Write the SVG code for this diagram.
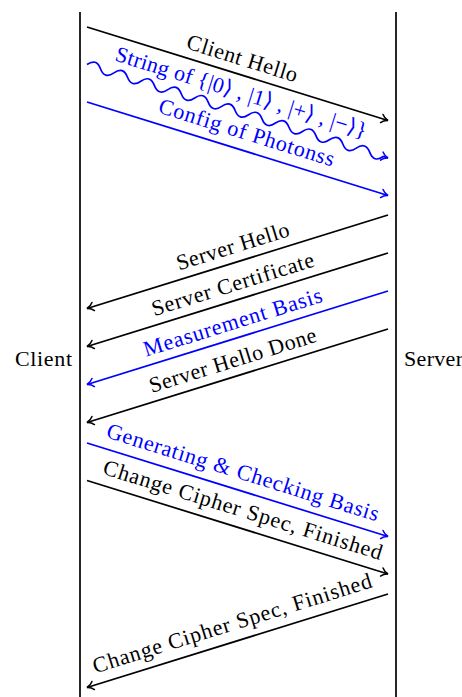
<svg xmlns="http://www.w3.org/2000/svg" width="462" height="697" viewBox="0 0 462 697">
  <style>
    text { font-family: "Liberation Serif", "DejaVu Serif", serif; font-size: 22px; }
    .k { fill: #000; }
    .b { fill: #0000ff; }
    .lifeline { stroke: #000; stroke-width: 1.7; fill: none; }
    .msg { stroke-width: 1.7; fill: none; }
    .msgk { stroke: #000; marker-end: url(#headK); }
    .msgb { stroke: #0000ff; marker-end: url(#headB); }
    .lab { text-anchor: middle; }
  </style>
  <defs>
    <marker id="headK" markerUnits="userSpaceOnUse" orient="auto" markerWidth="12" markerHeight="12" viewBox="-8 -6 10 12" refX="0" refY="0" overflow="visible">
      <path d="M -6.5,-4.2 C -4.6,-1.7 -1.6,-0.35 0,0 C -1.6,0.35 -4.6,1.7 -6.5,4.2" fill="none" stroke="#000" stroke-width="1.5" stroke-linecap="round"/>
    </marker>
    <marker id="headB" markerUnits="userSpaceOnUse" orient="auto" markerWidth="12" markerHeight="12" viewBox="-8 -6 10 12" refX="0" refY="0" overflow="visible">
      <path d="M -6.5,-4.2 C -4.6,-1.7 -1.6,-0.35 0,0 C -1.6,0.35 -4.6,1.7 -6.5,4.2" fill="none" stroke="#0000ff" stroke-width="1.5" stroke-linecap="round"/>
    </marker>
  </defs>

  <!-- participants -->
  <g id="client">
    <line class="lifeline" x1="80" y1="12" x2="80" y2="697"/>
    <text class="k" x="72" y="366" text-anchor="end" textLength="57" lengthAdjust="spacing">Client</text>
  </g>
  <g id="server">
    <line class="lifeline" x1="396" y1="12" x2="396" y2="697"/>
    <text class="k" x="404" y="366" textLength="59" lengthAdjust="spacing">Server</text>
  </g>

  <!-- messages -->
  <g id="connectors">
    <line class="msg msgk" x1="87" y1="27" x2="388" y2="120.5"/>
    <path class="msg msgb" transform="translate(87,64.5) rotate(17.26)" d="M0,0 q7.05,-9 14.1,0 t14.1,0 t14.1,0 t14.1,0 t14.1,0 t14.1,0 t14.1,0 t14.1,0 t14.1,0 t14.1,0 t14.1,0 t14.1,0 t14.1,0 t14.1,0 t14.1,0 t14.1,0 t14.1,0 t14.1,0 t14.1,0 t14.1,0 t14.1,0 t14.1,0 l5,0"/>
    <line class="msg msgb" x1="87" y1="102" x2="388" y2="195.5"/>
    <line class="msg msgk" x1="388" y1="215" x2="87" y2="308.5"/>
    <line class="msg msgk" x1="388" y1="253" x2="87" y2="346.5"/>
    <line class="msg msgb" x1="388" y1="291" x2="87" y2="384.5"/>
    <line class="msg msgk" x1="388" y1="329" x2="87" y2="422.5"/>
    <line class="msg msgb" x1="87" y1="443" x2="388" y2="536.5"/>
    <line class="msg msgk" x1="87" y1="480.5" x2="388" y2="574"/>
    <line class="msg msgk" x1="388" y1="594" x2="87" y2="687.5"/>
  </g>

  <!-- message labels, each set along its arrow -->
  <g id="lbl-client-hello" transform="translate(237.5,73.75) rotate(17.26)">
    <text class="k lab" x="0" y="-9" textLength="115" lengthAdjust="spacing">Client Hello</text>
  </g>
  <g id="lbl-photon-string" transform="translate(237.5,111.25) rotate(17.26)">
    <text class="b lab" x="-2" y="-12" textLength="262" lengthAdjust="spacing">String of {|0⟩ , |1⟩ , |+⟩ , |−⟩}</text>
  </g>
  <g id="lbl-photon-config" transform="translate(237.5,148.75) rotate(17.26)">
    <text class="b lab" x="4" y="-11" textLength="183" lengthAdjust="spacing">Config of Photonss</text>
  </g>
  <g id="lbl-server-hello" transform="translate(237.5,261.75) rotate(-17.26)">
    <text class="k lab" x="0" y="-9" textLength="117" lengthAdjust="spacing">Server Hello</text>
  </g>
  <g id="lbl-server-cert" transform="translate(237.5,299.75) rotate(-17.26)">
    <text class="k lab" x="0" y="-9" textLength="169" lengthAdjust="spacing">Server Certificate</text>
  </g>
  <g id="lbl-measure-basis" transform="translate(237.5,337.75) rotate(-17.26)">
    <text class="b lab" x="0" y="-9" textLength="186" lengthAdjust="spacing">Measurement Basis</text>
  </g>
  <g id="lbl-server-done" transform="translate(237.5,375.75) rotate(-17.26)">
    <text class="k lab" x="0" y="-9" textLength="174" lengthAdjust="spacing">Server Hello Done</text>
  </g>
  <g id="lbl-gen-check" transform="translate(237.5,489.75) rotate(17.26)">
    <text class="b lab" x="0" y="-11" textLength="284" lengthAdjust="spacing">Generating &amp; Checking Basis</text>
  </g>
  <g id="lbl-ccs-client" transform="translate(237.5,527.25) rotate(17.26)">
    <text class="k lab" x="0" y="-11" textLength="291" lengthAdjust="spacing">Change Cipher Spec, Finished</text>
  </g>
  <g id="lbl-ccs-server" transform="translate(237.5,640.75) rotate(-17.26)">
    <text class="k lab" x="0" y="-11" textLength="291" lengthAdjust="spacing">Change Cipher Spec, Finished</text>
  </g>
</svg>
